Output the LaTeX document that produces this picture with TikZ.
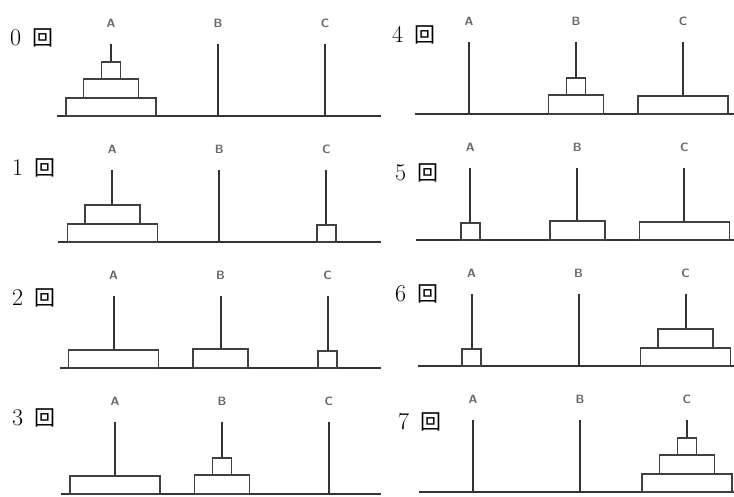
\documentclass[tikz,border=0pt]{standalone}
\usepackage{fontspec}
\newfontfamily\cjkfont{Noto Sans CJK JP}
\tikzset{
  pegline/.style={line width=1.8pt, draw=black!80},
  baseline/.style={line width=2pt, draw=black!80, line cap=butt},
  disk/.style={draw=black!75, line width=1.6pt, fill=white},
  peglabel/.style={font=\sffamily\bfseries\fontsize{12}{12}\selectfont, text=black!60, inner sep=0pt},
  steplabel/.style={anchor=west, inner sep=0pt},
}
% stack of disks: x centre, base y, list of width/height (bottom first)
\newcommand\hanoistack[3]{%
  \foreach \w/\h [remember=\ytop as \ybot (initially #2)] in {#3} {%
    \pgfmathsetmacro\ytop{\ybot-\h}%
    \draw[disk] ({#1-\w/2},\ybot) rectangle ({#1+\w/2},\ytop);
  }}
% panel: name, number, label x, label y, peg A x, base y, base end x
\newcommand\hanoipanel[7]{%
  \coordinate (#1-s) at ({#5-54},#6);
  \coordinate (#1-e) at (#7,#6);
  \draw[baseline] (#1-s) -- (#1-e);
  \foreach \k/\L in {0/A,1/B,2/C}{%
    \coordinate (#1-\L-top) at ({#5+107*\k},{#6-72});
    \coordinate (#1-\L-bot) at ({#5+107*\k},#6);
    \draw[pegline] (#1-\L-top) -- (#1-\L-bot);
    \node[peglabel] (#1-\L-lab) at ({#5+107*\k},{#6-93}) {\L};
  }
  \node[steplabel] (#1-lab) at (#3,#4)
    {\fontsize{24}{24}\selectfont #2\hspace{11pt}{\cjkfont\fontsize{21}{21}\selectfont 回}};
}
\begin{document}
\begin{tikzpicture}[x=1pt,y=-1pt]
\useasboundingbox (0,0) rectangle (734,497);
\clip (0,0) rectangle (734,497);
% left column
\hanoipanel{p0}{0}{10}{38}{111}{116}{381}
\hanoistack{111}{116}{90/18,55/19,19/17}
\hanoipanel{p1}{1}{12}{168}{112.3}{242}{381}
\hanoistack{112.3}{242}{90/18,55/19}
\hanoistack{326.3}{242}{19/17}
\hanoipanel{p2}{2}{12}{298}{113.6}{368}{381}
\hanoistack{113.6}{368}{90/18}
\hanoistack{220.6}{368}{55/19}
\hanoistack{327.6}{368}{19/17}
\hanoipanel{p3}{3}{12}{418}{114.9}{494}{381}
\hanoistack{114.9}{494}{90/18}
\hanoistack{221.9}{494}{55/19,19/17}
% right column
\hanoipanel{p4}{4}{392}{35}{469}{114}{740}
\hanoistack{576}{114}{55/19,19/17}
\hanoistack{683}{114}{90/18}
\hanoipanel{p5}{5}{395}{173}{470.3}{240}{740}
\hanoistack{470.3}{240}{19/17}
\hanoistack{577.3}{240}{55/19}
\hanoistack{684.3}{240}{90/18}
\hanoipanel{p6}{6}{395}{294}{471.6}{366}{740}
\hanoistack{471.6}{366}{19/17}
\hanoistack{685.6}{366}{90/18,55/19}
\hanoipanel{p7}{7}{398}{422}{472.9}{492}{740}
\hanoistack{686.9}{492}{90/18,55/19,19/17}
\end{tikzpicture}
\end{document}
